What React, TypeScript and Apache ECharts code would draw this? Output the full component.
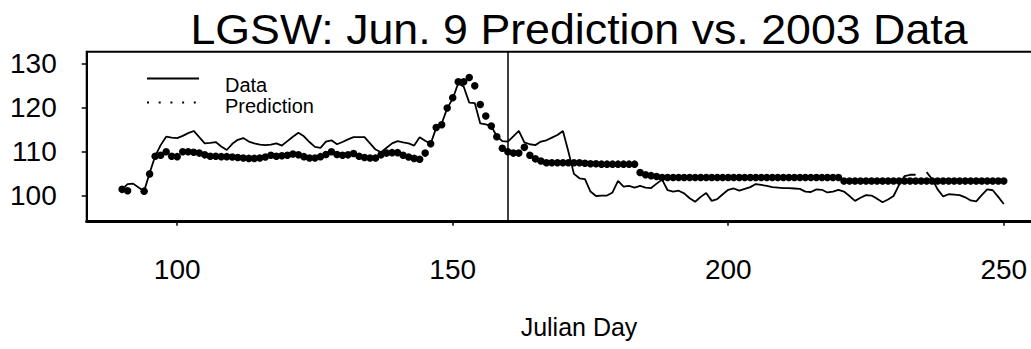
import React, { useEffect, useRef } from "react";
import * as echarts from "echarts";

// Julian day of the first value in each list (one value per day)
const FIRST_DAY = 90;

// Observed 2003 data, days 90..250 (null = no reading)
const observed: (number | null)[] = [
  101.5, 102.7, 102.8, 101.9, 101.1, 105.2, 109.0, 111.5, 113.4, 113.2,
  113.1, 113.6, 114.2, 114.7, 113.3, 111.9, 112.0, 112.2, 111.2, 110.4,
  111.8, 112.7, 113.1, 112.3, 111.9, 111.6, 111.5, 111.6, 111.9, 111.4,
  112.4, 113.4, 114.3, 113.5, 112.2, 111.1, 110.9, 112.3, 112.6, 111.7,
  112.2, 112.8, 113.3, 113.3, 113.3, 111.9, 110.5, 109.9, 110.9, 111.9,
  112.4, 112.1, 111.9, 111.4, 113.3, 112.5, 111.8, 115.4, 116.4, 119.8,
  122.0, 125.5, 124.7, 121.1, 121.0, 116.4, 116.2, 115.8, 113.5, 112.4,
  112.3, 113.5, 114.7, 112.1, 111.7, 111.5, 112.3, 112.6, 113.2, 113.8,
  114.7, 110.0, 105.0, 104.0, 103.8, 101.0, 100.0, 100.1, 100.1, 100.8,
  103.4, 102.1, 102.3, 101.9, 102.3, 101.9, 101.8, 102.8, 103.7, 101.3,
  101.0, 101.2, 100.6, 99.5, 98.7, 99.8, 100.7, 98.9, 99.3, 100.4,
  101.4, 101.7, 101.2, 101.6, 102.0, 102.7, 102.5, 102.3, 102.0, 101.9,
  101.8, 101.8, 101.7, 101.6, 101.0, 100.9, 101.5, 101.4, 100.8, 101.0,
  101.4, 101.0, 100.0, 98.9, 99.6, 100.2, 100.1, 99.4, 98.6, 99.2,
  100.0, 102.5, 104.5, 104.8, 104.8, null, 105.4, 103.8, 101.5, 99.9,
  100.4, 100.3, 100.2, 99.7, 99.0, 98.8, 100.2, 101.5, 101.3, 99.8,
  98.2,
];

// Jun. 9 prediction, days 90..250 (null = no point)
const predicted: (number | null)[] = [
  101.5, 101.2, null, null, 101.1, 105.0, 109.0, 109.2, 110.0, 109.0,
  108.9, 110.0, 110.0, 109.9, 109.7, 109.3, 109.0, 109.0, 108.9, 108.9,
  108.8, 108.7, 108.6, 108.5, 108.5, 108.6, 108.8, 109.2, 109.0, 109.1,
  109.2, 109.5, 109.3, 108.9, 108.6, 108.6, 108.9, 109.4, 110.0, 109.4,
  109.2, 109.3, 109.6, 109.0, 108.7, 108.6, 108.6, 109.3, 109.7, 109.8,
  109.8, 109.2, 108.8, 108.5, 108.3, 109.7, 111.8, 115.5, 116.1, 119.9,
  122.2, 125.8, 125.8, 126.8, 124.9, 120.7, 118.1, 115.8, 113.4, 110.8,
  110.0, 109.7, 109.7, 111.0, 109.2, 108.4, 107.9, 107.5, 107.5, 107.5,
  107.5, 107.5, 107.5, 107.5, 107.4, 107.3, 107.3, 107.2, 107.2, 107.2,
  107.2, 107.2, 107.2, 107.2, 105.3, 104.8, 104.6, 104.4, 104.2, 104.2,
  104.2, 104.2, 104.2, 104.2, 104.2, 104.2, 104.2, 104.2, 104.2, 104.2,
  104.2, 104.2, 104.2, 104.2, 104.2, 104.2, 104.2, 104.2, 104.2, 104.2,
  104.2, 104.2, 104.2, 104.2, 104.2, 104.2, 104.2, 104.2, 104.2, 104.2,
  104.2, 103.4, 103.4, 103.4, 103.4, 103.4, 103.4, 103.4, 103.4, 103.4,
  103.4, 103.4, 103.4, 103.4, 103.4, 103.4, 103.4, 103.4, 103.4, 103.4,
  103.4, 103.4, 103.4, 103.4, 103.4, 103.4, 103.4, 103.4, 103.4, 103.4,
  103.4,
];

const xTicks = [100, 150, 200, 250];
const yTicks = [100, 110, 120, 130];
const CUTOFF_DAY = 160;

const TITLE = "LGSW: Jun. 9 Prediction vs. 2003 Data";
const X_NAME = "Julian Day";
const FONT = '"Liberation Sans", Arial, sans-serif';

export default function App() {
  const ref = useRef<HTMLDivElement>(null);

  useEffect(() => {
    if (!ref.current) return;
    const chart = echarts.init(ref.current, null, { renderer: "svg" });

    const obsData = observed.map((v, i) => [FIRST_DAY + i, v]);
    const predData = predicted
      .map((v, i) => [FIRST_DAY + i, v])
      .filter((p) => p[1] !== null);

    chart.setOption({
      animation: false,
      backgroundColor: "#fff",
      textStyle: { fontFamily: FONT, color: "#000" },
      grid: {
        left: 86.7,
        top: 51.7,
        right: 9,
        bottom: 127.3,
        show: true,
        borderColor: "#000",
        borderWidth: 2,
        containLabel: false,
      },
      xAxis: {
        type: "value",
        min: 83.58,
        max: 262.2,
        axisLine: { show: true, onZero: false, lineStyle: { color: "#000", width: 3 } },
        axisTick: {
          show: true,
          customValues: xTicks,
          length: 4,
          inside: false,
          lineStyle: { color: "#000", width: 1.5 },
        },
        axisLabel: {
          customValues: xTicks,
          fontSize: 28,
          color: "#000",
          fontFamily: FONT,
          margin: 34,
        },
        splitLine: { show: false },
      },
      yAxis: {
        type: "value",
        min: 94.19,
        max: 132.62,
        axisLine: { show: true, onZero: false, lineStyle: { color: "#000", width: 2 } },
        axisTick: {
          show: true,
          customValues: yTicks,
          length: 5,
          inside: false,
          lineStyle: { color: "#000", width: 1.5 },
        },
        axisLabel: {
          customValues: yTicks,
          fontSize: 28,
          color: "#000",
          fontFamily: FONT,
          margin: 30,
        },
        splitLine: { show: false },
      },
      graphic: [
        {
          type: "text",
          x: 579,
          y: 29,
          scaleX: 1.065,
          style: {
            text: TITLE,
            font: `42px ${FONT}`,
            fill: "#000",
            textAlign: "center",
            textVerticalAlign: "middle",
            verticalAlign: "middle",
          },
        },
        {
          type: "text",
          x: 579,
          y: 327,
          style: {
            text: X_NAME,
            font: `25px ${FONT}`,
            fill: "#000",
            textAlign: "center",
            textVerticalAlign: "middle",
            verticalAlign: "middle",
          },
        },
        {
          type: "line",
          shape: { x1: 147, y1: 78.5, x2: 199, y2: 78.5 },
          style: { stroke: "#000", lineWidth: 2 },
        },
        {
          type: "line",
          shape: { x1: 147, y1: 102.5, x2: 200, y2: 102.5 },
          style: { stroke: "#000", lineWidth: 2, lineDash: [2, 9.7] },
        },
        {
          type: "text",
          x: 225,
          y: 84.5,
          style: {
            text: "Data",
            font: `20px ${FONT}`,
            fill: "#000",
            textVerticalAlign: "middle",
            verticalAlign: "middle",
          },
        },
        {
          type: "text",
          x: 225,
          y: 105.5,
          style: {
            text: "Prediction",
            font: `20px ${FONT}`,
            fill: "#000",
            textVerticalAlign: "middle",
            verticalAlign: "middle",
          },
        },
      ],
      series: [
        {
          name: "Data",
          type: "line",
          data: obsData,
          showSymbol: false,
          symbol: "none",
          connectNulls: false,
          lineStyle: { color: "#000", width: 1.8 },
          z: 2,
          markLine: {
            silent: true,
            symbol: ["none", "none"],
            label: { show: false },
            lineStyle: { color: "#000", width: 1.5, type: "solid" },
            data: [{ xAxis: CUTOFF_DAY }],
          },
        },
        {
          name: "Prediction",
          type: "scatter",
          data: predData,
          symbol: "circle",
          symbolSize: 7.5,
          itemStyle: { color: "#000", opacity: 1 },
          z: 3,
        },
      ],
    });

    return () => chart.dispose();
  }, []);

  return (
    <div
      style={{
        position: "absolute",
        left: 0,
        top: 0,
        width: 1031,
        height: 349,
        overflow: "hidden",
        background: "#fff",
      }}
    >
      <div ref={ref} style={{ width: 1080, height: 349 }} />
    </div>
  );
}
